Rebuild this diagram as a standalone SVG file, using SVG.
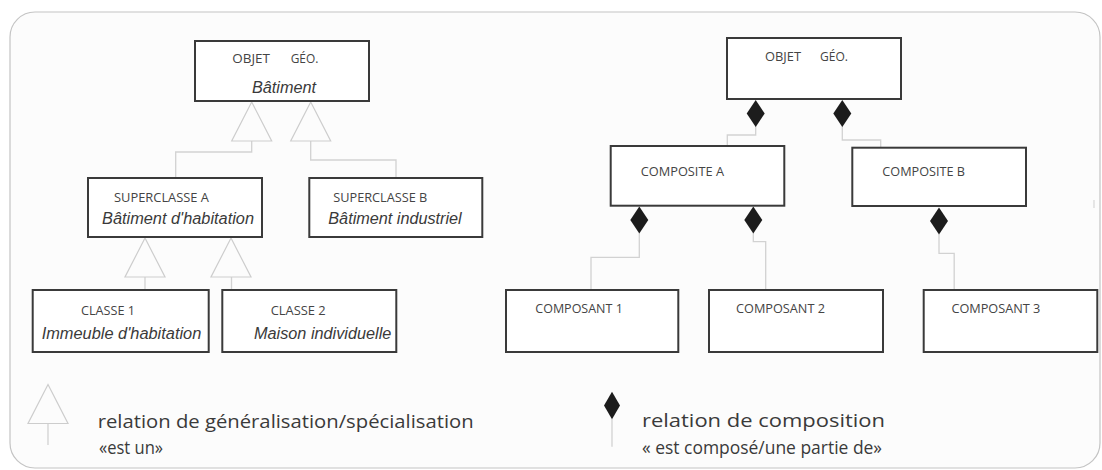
<svg xmlns="http://www.w3.org/2000/svg" xmlns:xlink="http://www.w3.org/1999/xlink" width="1102" height="470" viewBox="0 0 1102 470">
<style>
.frame{fill:#fcfcfc;stroke:#c4c4c4;stroke-width:1.2}
.box{fill:#ffffff;stroke:#3a3a3a;stroke-width:2}
.lbl{font-family:"Open Sans","Noto Sans","Liberation Sans",sans-serif;font-size:13px;fill:#444}
.it{font-family:"Liberation Sans",Arial,sans-serif;font-style:italic;font-size:16.3px;fill:#3a3a3a}
.leg{font-family:"Open Sans","Noto Sans","Liberation Sans",sans-serif;font-size:18.5px;fill:#3a3a3a}
.con{fill:none;stroke:#d2d2d2;stroke-width:1.3}
.tri{fill:#fcfcfc;stroke:#cdcdcd;stroke-width:1.2;stroke-linejoin:miter}
.dia{fill:#1c1c1c;stroke:none}
</style>
<defs>
<path id="tri" d="M0,0 L20,39 L-20,39 Z"/>
<path id="dia" d="M0,0 L9,13.5 L0,27 L-9,13.5 Z"/>
</defs>
<rect width="1102" height="470" fill="#ffffff"/>
<rect class="frame" x="10" y="12" width="1090" height="456" rx="25" ry="25"/>
<line x1="1094" y1="200" x2="1094" y2="208" stroke="#cfcfcf" stroke-width="1"/>

<g id="connectors">
<path class="con" d="M251.7,141 V152 H175.7 V178"/>
<path class="con" d="M310.7,141 V160 H396 V178"/>
<path class="con" d="M145,277 V290"/>
<path class="con" d="M231.5,277 V290"/>
<use href="#tri" class="tri" x="251.7" y="102"/>
<use href="#tri" class="tri" x="310.7" y="102"/>
<use href="#tri" class="tri" x="145" y="238"/>
<use href="#tri" class="tri" x="231" y="238"/>

<path class="con" d="M755.7,126 V135 H727.3 V146"/>
<path class="con" d="M842.3,126 V140 H880.7 V148"/>
<path class="con" d="M639.3,233 V257.3 H591 V290"/>
<path class="con" d="M753.3,233 V241.7 H765.7 V290"/>
<path class="con" d="M939,234 V253.3 H954.2 V290"/>
<use href="#dia" class="dia" x="755.7" y="100"/>
<use href="#dia" class="dia" x="842.3" y="100"/>
<use href="#dia" class="dia" x="639.3" y="206.5"/>
<use href="#dia" class="dia" x="753.3" y="206.5"/>
<use href="#dia" class="dia" x="939" y="207.5"/>
</g>

<g id="objet-geo-gen">
<rect class="box" x="195" y="41" width="174" height="60"/>
<text class="lbl" y="63"><tspan x="232.3" textLength="37.7" lengthAdjust="spacingAndGlyphs">OBJET</tspan><tspan x="290.7" textLength="27.7" lengthAdjust="spacingAndGlyphs">GÉO.</tspan></text>
<text class="it" x="252" y="93" textLength="64" lengthAdjust="spacingAndGlyphs">Bâtiment</text>
</g>

<g id="superclasse-a">
<rect class="box" x="88" y="178" width="174" height="59"/>
<text class="lbl" x="114" y="202" textLength="95" lengthAdjust="spacingAndGlyphs">SUPERCLASSE A</text>
<text class="it" x="102" y="224" textLength="152" lengthAdjust="spacingAndGlyphs">Bâtiment d'habitation</text>
</g>

<g id="superclasse-b">
<rect class="box" x="309.3" y="178" width="173" height="59"/>
<text class="lbl" x="333.3" y="202" textLength="94" lengthAdjust="spacingAndGlyphs">SUPERCLASSE B</text>
<text class="it" x="328.3" y="224" textLength="133.4" lengthAdjust="spacingAndGlyphs">Bâtiment industriel</text>
</g>

<g id="classe-1">
<rect class="box" x="32.7" y="290" width="176" height="62"/>
<text class="lbl" x="81" y="315.3" textLength="54" lengthAdjust="spacingAndGlyphs">CLASSE 1</text>
<text class="it" x="41.7" y="339" textLength="159.6" lengthAdjust="spacingAndGlyphs">Immeuble d'habitation</text>
</g>

<g id="classe-2">
<rect class="box" x="222.3" y="290" width="174" height="62"/>
<text class="lbl" x="270.7" y="315.3" textLength="55" lengthAdjust="spacingAndGlyphs">CLASSE 2</text>
<text class="it" x="254" y="339" textLength="137.3" lengthAdjust="spacingAndGlyphs">Maison individuelle</text>
</g>

<g id="objet-geo-comp">
<rect class="box" x="727" y="38" width="174" height="61"/>
<text class="lbl" y="61"><tspan x="765" textLength="36" lengthAdjust="spacingAndGlyphs">OBJET</tspan><tspan x="820" textLength="28" lengthAdjust="spacingAndGlyphs">GÉO.</tspan></text>
</g>

<g id="composite-a">
<rect class="box" x="610.7" y="146" width="173.6" height="59.7"/>
<text class="lbl" x="640.7" y="175.7" textLength="83.3" lengthAdjust="spacingAndGlyphs">COMPOSITE A</text>
</g>

<g id="composite-b">
<rect class="box" x="852.3" y="147.7" width="173.7" height="58.3"/>
<text class="lbl" x="882.3" y="176" textLength="82.7" lengthAdjust="spacingAndGlyphs">COMPOSITE B</text>
</g>

<g id="composant-1">
<rect class="box" x="506" y="290" width="172.3" height="62"/>
<text class="lbl" x="535.3" y="313.3" textLength="87.5" lengthAdjust="spacingAndGlyphs">COMPOSANT 1</text>
</g>

<g id="composant-2">
<rect class="box" x="709" y="290" width="174" height="62"/>
<text class="lbl" x="736" y="313.3" textLength="89" lengthAdjust="spacingAndGlyphs">COMPOSANT 2</text>
</g>

<g id="composant-3">
<rect class="box" x="923.7" y="290" width="173.6" height="62"/>
<text class="lbl" x="951.4" y="313.3" textLength="89" lengthAdjust="spacingAndGlyphs">COMPOSANT 3</text>
</g>

<g id="legend-generalisation">
<path class="con" d="M48,424 V445"/>
<use href="#tri" class="tri" x="48" y="384.5"/>
<text class="leg" x="97.7" y="427.5" textLength="376" lengthAdjust="spacingAndGlyphs">relation de généralisation/spécialisation</text>
<text class="leg" x="99" y="454" textLength="64" lengthAdjust="spacingAndGlyphs">«est un»</text>
</g>

<g id="legend-composition">
<path class="con" d="M612,419 V446.7"/>
<path class="dia" d="M612,391.7 L620,405.5 L612,419.3 L604,405.5 Z"/>
<text class="leg" x="642" y="427" textLength="243" lengthAdjust="spacingAndGlyphs">relation de composition</text>
<text class="leg" x="642" y="454" textLength="240" lengthAdjust="spacingAndGlyphs">« est composé/une partie de»</text>
</g>
</svg>
